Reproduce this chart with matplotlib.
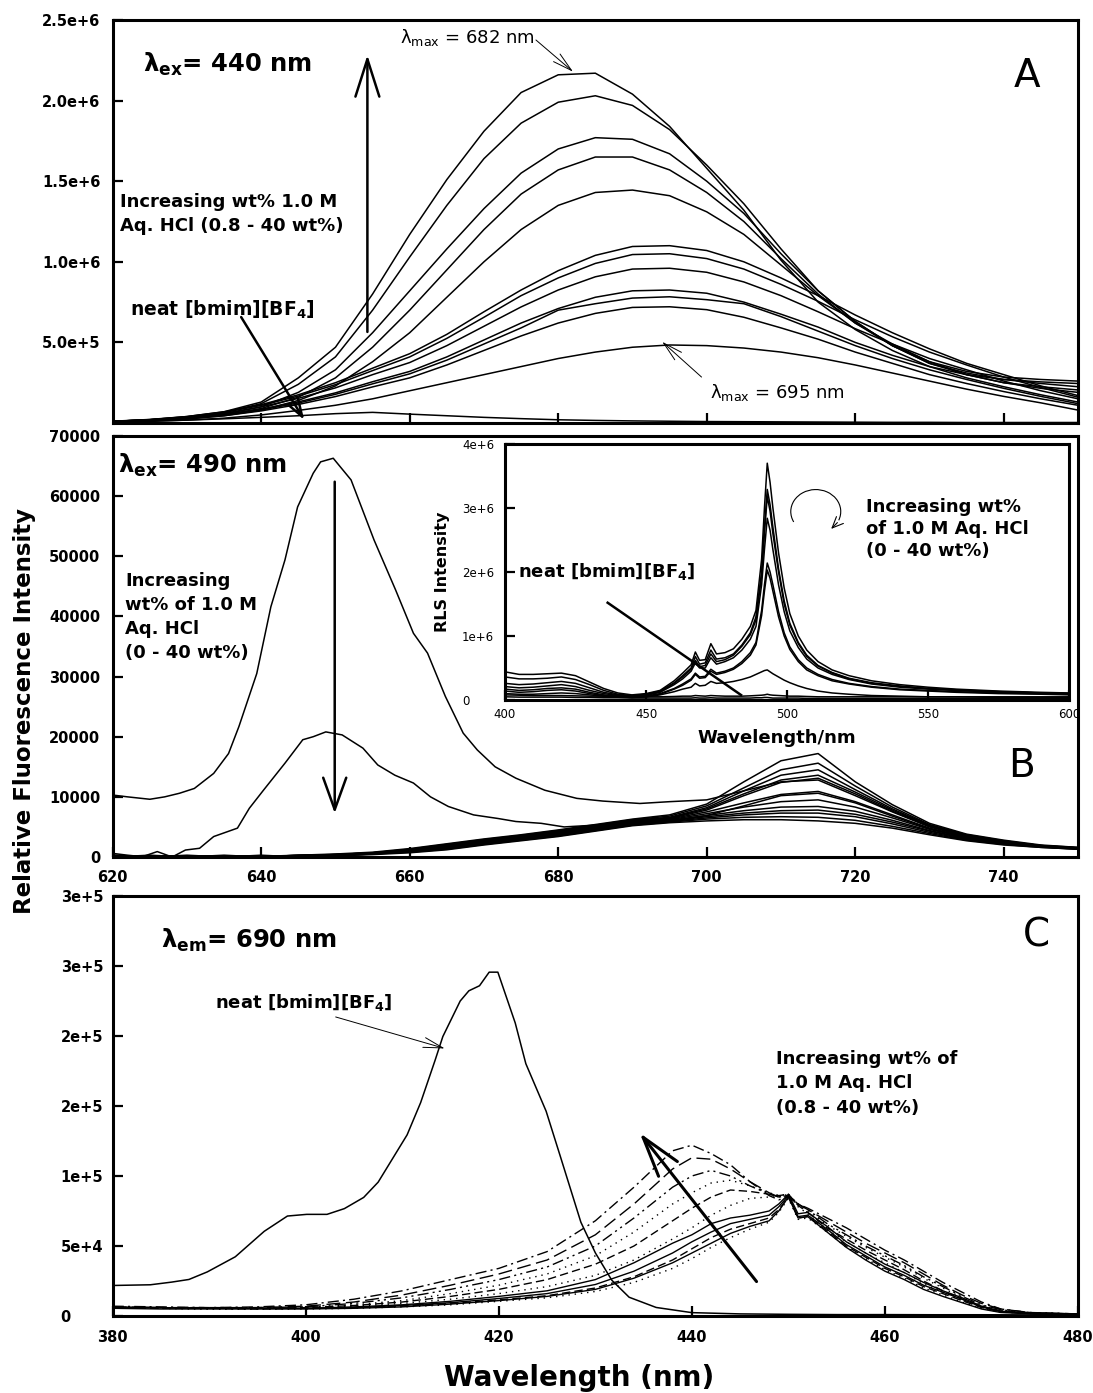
import matplotlib
matplotlib.use("Agg")
import matplotlib.pyplot as plt
import numpy as np
from matplotlib.patches import Arc

plt.rcParams['font.family'] = 'DejaVu Sans'
plt.rcParams['mathtext.fontset'] = 'dejavusans'

# ---------------- panel A : emission spectra, ex 440 nm (units of 1e6)
a_x = [620, 625, 630, 635, 640, 645, 650, 655, 660, 665, 670, 675, 680, 685,
       690, 695, 700, 705, 710, 715, 720, 725, 730, 735, 740, 745, 750]
a1 = [0.01, 0.02, 0.04, 0.07, 0.13, 0.28, 0.47, 0.80, 1.17, 1.51, 1.81, 2.05, 2.16, 2.17,
      2.04, 1.84, 1.58, 1.32, 1.01, 0.75, 0.58, 0.45, 0.35, 0.30, 0.27, 0.255, 0.245]
a2 = [0.01, 0.02, 0.035, 0.065, 0.12, 0.24, 0.41, 0.70, 1.03, 1.35, 1.64, 1.86, 1.99, 2.03,
      1.97, 1.82, 1.60, 1.36, 1.08, 0.82, 0.63, 0.48, 0.38, 0.32, 0.285, 0.27, 0.26]
a3 = [0.01, 0.02, 0.03, 0.055, 0.10, 0.19, 0.33, 0.56, 0.82, 1.08, 1.33, 1.55, 1.70, 1.77,
      1.76, 1.67, 1.50, 1.30, 1.05, 0.82, 0.63, 0.48, 0.37, 0.31, 0.27, 0.245, 0.225]
a4 = [0.008, 0.015, 0.028, 0.05, 0.09, 0.16, 0.28, 0.47, 0.70, 0.95, 1.20, 1.42, 1.57, 1.65,
      1.65, 1.57, 1.43, 1.25, 1.02, 0.80, 0.62, 0.48, 0.37, 0.30, 0.25, 0.225, 0.205]
a5 = [0.008, 0.015, 0.025, 0.045, 0.08, 0.14, 0.23, 0.38, 0.56, 0.78, 1.00, 1.20, 1.35, 1.43,
      1.445, 1.41, 1.31, 1.17, 0.98, 0.79, 0.62, 0.49, 0.38, 0.30, 0.25, 0.215, 0.19]
a6 = [0.011, 0.022, 0.04, 0.069, 0.114, 0.175, 0.25, 0.34, 0.43, 0.55, 0.69, 0.825, 0.945, 1.04,
      1.095, 1.10, 1.07, 1.0, 0.90, 0.79, 0.67, 0.56, 0.46, 0.37, 0.30, 0.23, 0.17]
a7 = [0.01, 0.021, 0.038, 0.066, 0.109, 0.167, 0.238, 0.325, 0.41, 0.525, 0.656, 0.79, 0.90, 0.99,
      1.045, 1.05, 1.02, 0.955, 0.86, 0.755, 0.64, 0.535, 0.44, 0.36, 0.285, 0.22, 0.16]
a8 = [0.01, 0.019, 0.035, 0.06, 0.1, 0.153, 0.218, 0.30, 0.375, 0.48, 0.60, 0.72, 0.825, 0.907,
      0.955, 0.96, 0.935, 0.875, 0.79, 0.69, 0.585, 0.49, 0.40, 0.33, 0.26, 0.2, 0.15]
a9 = [0.008, 0.016, 0.03, 0.052, 0.086, 0.131, 0.187, 0.256, 0.32, 0.41, 0.515, 0.62, 0.71, 0.78,
      0.82, 0.825, 0.805, 0.75, 0.675, 0.595, 0.50, 0.42, 0.35, 0.28, 0.225, 0.175, 0.13]
a10 = [0.008, 0.015, 0.028, 0.049, 0.081, 0.124, 0.178, 0.243, 0.305, 0.39, 0.49, 0.59, 0.70, 0.74,
       0.775, 0.783, 0.765, 0.74, 0.66, 0.57, 0.48, 0.40, 0.33, 0.27, 0.215, 0.165, 0.12]
a11 = [0.007, 0.014, 0.026, 0.045, 0.075, 0.115, 0.164, 0.224, 0.28, 0.36, 0.45, 0.54, 0.62, 0.68,
       0.717, 0.721, 0.703, 0.656, 0.59, 0.52, 0.44, 0.37, 0.30, 0.245, 0.195, 0.15, 0.11]
a12 = [0.005, 0.01, 0.018, 0.03, 0.05, 0.078, 0.11, 0.15, 0.20, 0.25, 0.30, 0.35, 0.40, 0.44,
       0.47, 0.484, 0.48, 0.465, 0.44, 0.405, 0.36, 0.31, 0.26, 0.21, 0.165, 0.125, 0.08]
a_neat = [0.008, 0.012, 0.018, 0.026, 0.035, 0.045, 0.058, 0.066, 0.055, 0.045, 0.035, 0.027, 0.02, 0.016,
          0.013, 0.011, 0.009, 0.008, 0.007, 0.006, 0.005, 0.004, 0.004, 0.003, 0.003, 0.003, 0.003]
a_curves = [a1, a2, a3, a4, a5, a6, a7, a8, a9, a10, a11, a12, a_neat]
a_yticks = [0.5, 1.0, 1.5, 2.0, 2.5]
a_ylabels = ['5.0e+5', '1.0e+6', '1.5e+6', '2.0e+6', '2.5e+6']

# ---------------- panel B : emission spectra, ex 490 nm
b_neat_x = [620, 622, 625, 627, 629, 631, 633.6, 635.6, 637, 639.4, 641.3, 643.2, 644.9, 647, 648,
            649.7, 652.1, 655.2, 658.1, 660.5, 662.4, 664.8, 667.2, 669.1, 671.5, 674.3, 678.2,
            682.5, 686, 691, 695, 700, 705, 710, 715, 720, 725, 730, 735, 740, 745, 750]
b_neat = [10300, 10000, 9600, 10000, 10600, 11400, 13900, 17200, 21700, 30500, 41600, 49400, 58200,
          63800, 65700, 66300, 62700, 52700, 44400, 37200, 33900, 26700, 20600, 17800, 15000, 13100,
          11100, 9750, 9300, 8900, 9200, 9500, 11000, 12500, 12800, 10200, 7500, 5000, 3400, 2500,
          1800, 1500]
b_second_x = [620, 622, 624, 626, 628, 629.8, 631.7, 633.6, 636.8, 638.4, 640.3, 643.2, 645.6, 647,
              648.7, 650.9, 653.7, 655.7, 658, 660.5, 662.8, 665.2, 668.6, 671.9, 674.3, 677.7,
              680.8, 685, 690, 695, 700, 705, 710, 715, 720, 725, 730, 735, 740, 745, 750]
b_second = [600, 300, 50, 900, 0, 1160, 1450, 3400, 4800, 8100, 11100, 15600, 19500, 20000, 20800,
            20300, 18100, 15300, 13600, 12300, 10000, 8400, 7000, 6400, 5900, 5600, 5000, 5300,
            5600, 6000, 6900, 8500, 10200, 10600, 9000, 6800, 4700, 3300, 2400, 1800, 1400]
b_x = a_x
b1 = [300, 0, 200, 0, 100, 300, 500, 800, 1400, 2200, 3000, 3700, 4500, 5400, 6300,
      7000, 8800, 12500, 16000, 17200, 12500, 8700, 5600, 3800, 2800, 2000, 1600]
b2 = [0, 200, 0, 300, 0, 200, 400, 700, 1300, 2100, 2900, 3600, 4400, 5300, 6200,
      6800, 8500, 11500, 14500, 15600, 11800, 8300, 5400, 3700, 2700, 1900, 1600]
b3 = [200, 0, 100, 0, 200, 0, 300, 600, 1200, 2000, 2800, 3500, 4300, 5200, 6100,
      6600, 8200, 11000, 13600, 14500, 11200, 8000, 5300, 3600, 2600, 1900, 1500]
b4 = [0, 100, 0, 100, 0, 300, 400, 700, 1200, 1900, 2700, 3500, 4200, 5100, 6000,
      6500, 8000, 10500, 12800, 13600, 10800, 7800, 5200, 3500, 2600, 1900, 1500]
b5 = [100, 0, 300, 0, 100, 100, 300, 600, 1100, 1800, 2600, 3400, 4100, 5000, 5900,
      6400, 7800, 10200, 12400, 13100, 10500, 7600, 5100, 3500, 2500, 1800, 1500]
b6 = [0, 300, 0, 200, 0, 200, 400, 700, 1100, 1700, 2500, 3300, 4000, 4900, 5800,
      6300, 7500, 9000, 10400, 10900, 9200, 7000, 4800, 3300, 2400, 1800, 1400]
b7 = [0, 0, 200, 0, 300, 0, 300, 500, 1000, 1600, 2400, 3200, 3900, 4800, 5700,
      6200, 7200, 8300, 9200, 9500, 8300, 6500, 4600, 3200, 2300, 1700, 1400]
b8 = [200, 0, 0, 100, 0, 200, 300, 600, 1000, 1600, 2300, 3100, 3800, 4700, 5600,
      6100, 6900, 7700, 8300, 8400, 7600, 6100, 4400, 3100, 2300, 1700, 1400]
b9 = [0, 100, 0, 0, 200, 100, 200, 500, 900, 1500, 2300, 3000, 3700, 4600, 5500,
      6000, 6700, 7300, 7700, 7800, 7100, 5800, 4300, 3000, 2200, 1700, 1400]
b10 = [100, 0, 100, 0, 0, 300, 400, 600, 900, 1400, 2200, 2900, 3600, 4500, 5400,
       5900, 6500, 7000, 7300, 7300, 6700, 5500, 4100, 2900, 2200, 1700, 1300]
b11 = [0, 0, 0, 200, 100, 0, 300, 500, 800, 1300, 2100, 2800, 3500, 4400, 5300,
       5800, 6300, 6600, 6700, 6600, 6100, 5100, 3900, 2800, 2100, 1600, 1300]
b12 = [300, 0, 200, 0, 100, 200, 200, 400, 700, 1200, 2000, 2700, 3400, 4300, 5200,
       5700, 6000, 6200, 6200, 6000, 5600, 4800, 3700, 2700, 2000, 1600, 1300]
b_curves = [b1, b2, b3, b4, b5, b6, b7, b8, b9, b10, b11, b12]

# ---------------- inset : RLS spectra (units of 1e6)
i_x = [400, 405, 410, 415, 420, 425, 430, 435, 440, 445,
       450, 455, 460, 463, 466, 467.5, 469, 471, 473, 475,
       478, 481, 484, 487, 489, 491, 492, 493, 494, 495,
       497, 499, 501, 504, 507, 511, 516, 522, 530, 540,
       550, 560, 575, 590, 600]
r1 = [0.44, 0.40, 0.40, 0.41, 0.42, 0.38, 0.28, 0.18, 0.11, 0.08,
      0.10, 0.15, 0.30, 0.42, 0.55, 0.75, 0.62, 0.63, 0.88, 0.72,
      0.74, 0.80, 0.95, 1.15, 1.4, 2.2, 3.0, 3.7, 3.4, 3.0,
      2.3, 1.75, 1.35, 1.0, 0.78, 0.6, 0.47, 0.38, 0.3, 0.24,
      0.2, 0.17, 0.14, 0.12, 0.11]
r2 = [0.36, 0.33, 0.33, 0.34, 0.36, 0.32, 0.24, 0.15, 0.09, 0.07,
      0.09, 0.14, 0.27, 0.38, 0.50, 0.68, 0.56, 0.58, 0.78, 0.64,
      0.66, 0.72, 0.86, 1.05, 1.3, 2.0, 2.7, 3.29, 3.05, 2.7,
      2.05, 1.55, 1.2, 0.9, 0.7, 0.54, 0.43, 0.34, 0.27, 0.22,
      0.18, 0.16, 0.13, 0.11, 0.10]
r3 = [0.26, 0.24, 0.25, 0.27, 0.29, 0.26, 0.19, 0.12, 0.08, 0.06,
      0.08, 0.13, 0.26, 0.36, 0.48, 0.62, 0.52, 0.54, 0.72, 0.60,
      0.63, 0.70, 0.84, 1.02, 1.25, 1.95, 2.6, 3.18, 2.95, 2.6,
      2.0, 1.5, 1.17, 0.88, 0.68, 0.53, 0.42, 0.33, 0.26, 0.21,
      0.18, 0.15, 0.13, 0.11, 0.10]
r4 = [0.21, 0.19, 0.20, 0.22, 0.24, 0.21, 0.15, 0.10, 0.07, 0.05,
      0.07, 0.12, 0.24, 0.33, 0.45, 0.58, 0.50, 0.50, 0.66, 0.56,
      0.60, 0.66, 0.78, 0.95, 1.15, 1.8, 2.35, 2.84, 2.65, 2.35,
      1.8, 1.38, 1.08, 0.82, 0.64, 0.5, 0.4, 0.32, 0.25, 0.2,
      0.17, 0.15, 0.12, 0.11, 0.10]
r5 = [0.17, 0.15, 0.16, 0.18, 0.19, 0.17, 0.12, 0.08, 0.06, 0.05,
      0.06, 0.10, 0.18, 0.25, 0.33, 0.42, 0.36, 0.37, 0.48, 0.42,
      0.45, 0.50, 0.60, 0.74, 0.90, 1.4, 1.8, 2.14, 2.0, 1.8,
      1.38, 1.05, 0.83, 0.63, 0.5, 0.4, 0.32, 0.26, 0.21, 0.17,
      0.15, 0.13, 0.11, 0.10, 0.09]
r6 = [0.14, 0.12, 0.13, 0.15, 0.16, 0.14, 0.10, 0.07, 0.05, 0.04,
      0.05, 0.09, 0.17, 0.23, 0.31, 0.40, 0.34, 0.35, 0.45, 0.40,
      0.43, 0.48, 0.57, 0.70, 0.86, 1.32, 1.7, 2.03, 1.9, 1.7,
      1.3, 1.0, 0.79, 0.6, 0.47, 0.38, 0.3, 0.25, 0.2, 0.16,
      0.14, 0.12, 0.10, 0.09, 0.08]
r7 = [0.10, 0.09, 0.09, 0.10, 0.11, 0.10, 0.08, 0.06, 0.05, 0.04,
      0.05, 0.08, 0.13, 0.17, 0.20, 0.26, 0.22, 0.23, 0.29, 0.26,
      0.27, 0.29, 0.32, 0.36, 0.40, 0.44, 0.46, 0.47, 0.44, 0.41,
      0.36, 0.31, 0.27, 0.22, 0.18, 0.14, 0.11, 0.09, 0.07, 0.06,
      0.05, 0.05, 0.04, 0.04, 0.04]
r8 = [0.08, 0.075, 0.07, 0.07, 0.07, 0.065, 0.06, 0.06, 0.055, 0.05,
      0.05, 0.05, 0.055, 0.06, 0.06, 0.07, 0.065, 0.06, 0.07, 0.065,
      0.06, 0.06, 0.06, 0.065, 0.07, 0.075, 0.08, 0.09, 0.08, 0.075,
      0.07, 0.065, 0.06, 0.06, 0.055, 0.05, 0.05, 0.05, 0.05, 0.05,
      0.05, 0.05, 0.05, 0.05, 0.05]
r9 = [0.05, 0.045, 0.045, 0.045, 0.045, 0.04, 0.04, 0.035, 0.035, 0.03,
      0.03, 0.03, 0.03, 0.03, 0.03, 0.035, 0.03, 0.03, 0.035, 0.03,
      0.03, 0.03, 0.03, 0.03, 0.035, 0.035, 0.04, 0.04, 0.035, 0.03,
      0.03, 0.03, 0.03, 0.03, 0.025, 0.025, 0.025, 0.025, 0.025, 0.025,
      0.025, 0.025, 0.02, 0.02, 0.02]
i_curves = [r1, r2, r3, r4, r5, r6, r7, r8, r9]

# ---------------- panel C : excitation spectra, em 690 nm
c_neat_x = [380, 383.9, 386.1, 387.9, 389.8, 392.7, 395.7, 398.1, 400.1, 402.2, 404, 406, 407.5,
            409, 410.5, 411.9, 413.4, 414.2, 416, 416.9, 418, 419, 419.9, 421.7, 422.8, 424.9,
            426.4, 428.5, 430, 431.7, 433.5, 436.3, 440, 445, 450, 455, 460, 465, 470, 475, 480]
c_neat = [21800, 22300, 24200, 26100, 31500, 42300, 60500, 71400, 72600, 72600, 76700, 84700, 95600,
          112500, 129400, 152400, 182700, 199600, 225000, 232300, 235900, 245600, 245600, 209300,
          180200, 146300, 113400, 67000, 45100, 25600, 13400, 6100, 2400, 1500, 1200, 1000, 1000,
          900, 900, 800, 1500]
c_x = [380, 385, 390, 395, 400, 405, 410, 415, 420, 425, 430,
       434, 438, 440, 442, 444, 446, 448, 449, 450, 451,
       452, 454, 456, 458, 460, 462, 464, 466, 468, 470,
       472, 475, 480]
c1 = [7000, 6500, 6000, 6500, 8000, 12000, 18000, 26000, 34000, 46000, 68000,
      92000, 118000, 122000, 116000, 108000, 96000, 86000, 83000, 85000, 80000,
      77000, 70000, 63000, 55000, 47000, 40000, 32000, 24000, 17000, 10000,
      5000, 2500, 1500]
c2 = [6500, 6000, 6000, 6000, 7000, 10000, 15000, 22000, 30000, 40000, 58000,
      80000, 105000, 113000, 112000, 105000, 96000, 88000, 85000, 86000, 80000,
      76000, 68000, 60000, 52000, 45000, 38000, 30000, 22000, 15000, 9000,
      5000, 2500, 1500]
c3 = [6500, 6000, 5500, 6000, 6500, 9000, 13000, 19000, 26000, 35000, 50000,
      70000, 92000, 100000, 104000, 100000, 93000, 87000, 85000, 86000, 80000,
      76000, 66000, 58000, 50000, 43000, 36000, 28000, 21000, 14000, 8000,
      4500, 2000, 1500]
c4 = [6000, 6000, 5500, 5500, 6000, 8000, 11000, 16000, 22000, 30000, 43000,
      60000, 80000, 88000, 95000, 97000, 93000, 88000, 86000, 87000, 80000,
      75000, 65000, 57000, 49000, 42000, 35000, 27000, 20000, 13000, 7500,
      4000, 2000, 1500]
c5 = [6000, 5500, 5500, 5500, 6000, 7500, 10000, 14000, 19000, 26000, 37000,
      50000, 68000, 77000, 85000, 90000, 89000, 87000, 86000, 87000, 79000,
      74000, 63000, 55000, 47000, 40000, 33000, 25000, 18000, 12000, 7000,
      3500, 2000, 1500]
c6 = [5500, 5500, 5000, 5000, 5500, 7000, 9000, 12000, 16000, 21000, 29000,
      40000, 55000, 63000, 72000, 79000, 84000, 85000, 85000, 87000, 78000,
      73000, 62000, 53000, 45000, 38000, 31000, 23000, 17000, 11000, 6500,
      3500, 2000, 1500]
c7 = [6500, 6000, 5500, 5500, 5500, 6500, 8000, 10500, 14000, 18000, 26000,
      38000, 52000, 58000, 66000, 70000, 72000, 75000, 80000, 87000, 73000,
      74000, 64000, 53000, 45000, 37000, 31000, 24000, 18000, 13000, 7000,
      3500, 2000, 1500]
c8 = [6000, 6000, 5500, 5500, 5500, 6000, 7500, 9500, 12500, 16000, 22500,
      32000, 45000, 53000, 60000, 66000, 69000, 72000, 78000, 86000, 71000,
      72000, 62000, 51000, 43000, 35000, 29000, 22000, 17000, 12000, 6500,
      3000, 1800, 1500]
c9 = [6000, 5500, 5500, 5000, 5500, 6000, 7000, 9000, 11500, 14500, 20000,
      28000, 40000, 48000, 56000, 62000, 66000, 70000, 76000, 85000, 70000,
      71000, 61000, 50000, 42000, 34000, 28000, 21000, 16000, 11000, 6000,
      3000, 1800, 1500]
c10 = [5500, 5500, 5000, 5000, 5000, 5500, 6500, 8000, 10500, 13000, 17500,
       24000, 34000, 41000, 49000, 56000, 62000, 67000, 74000, 84000, 69000,
       70000, 60000, 49000, 41000, 33000, 27000, 20000, 15000, 10000, 5500,
       2800, 1700, 1500]
c11 = [5500, 5000, 5000, 5000, 5000, 5500, 6500, 8500, 11000, 14000, 19000,
       27000, 38000, 45000, 52000, 59000, 64000, 68000, 75000, 85000, 70000,
       71000, 60000, 49000, 40000, 32000, 26000, 19000, 14000, 9500, 5000,
       2500, 1600, 1500]
c_curves = [c1, c2, c3, c4, c5, c6, c7, c8, c9, c10, c11]
c_styles = [(0, (8, 3, 1.5, 3)), (0, (10, 4)), (0, (8, 3, 1.5, 3, 1.5, 3)), (0, (1, 3.5)),
            (0, (6, 3)), (0, (1, 3.5)), '-', '-', (0, (6, 3)), (0, (1, 3.5)), '-']
c_ylabels = ['0', '5e+4', '1e+5', '2e+5', '2e+5', '3e+5', '3e+5']

W, H = 1093, 1393


def box(l, t, r, b):
    return [l / W, 1 - b / H, (r - l) / W, (b - t) / H]


def frame(ax, lw=2.2):
    for s in ax.spines.values():
        s.set_linewidth(lw)
    ax.tick_params(direction='in', length=7, width=1.6)


def arrow(ax, tail, tip, lw, hl, hw, coords='data'):
    ax.annotate('', xy=tip, xytext=tail, xycoords=coords, textcoords=coords,
                arrowprops=dict(arrowstyle='->,head_length=%g,head_width=%g' % (hl, hw),
                                lw=lw, color='black', shrinkA=0, shrinkB=0, mutation_scale=1))


fig = plt.figure(figsize=(10.93, 13.93), dpi=100)
axA = fig.add_axes(box(112.7, 20, 1078, 423))
axB = fig.add_axes(box(112.7, 436, 1078, 857))
axC = fig.add_axes(box(112.7, 896, 1078, 1316))
axI = fig.add_axes(box(505, 444, 1069, 700))

tick_kw = dict(fontsize=10.5, fontweight='bold')
txt_kw = dict(fontsize=13, fontweight='bold', linespacing=1.45)

# ---- A
for y in a_curves:
    axA.plot(a_x, y, color='black', lw=1.1)
axA.set_xlim(620, 750)
axA.set_ylim(0, 2.5)
axA.set_xticks([640, 660, 680, 700, 720, 740], [])
axA.set_yticks(a_yticks, a_ylabels, **tick_kw)
frame(axA)
axA.tick_params(axis='y', pad=9)
axA.text(0.031, 0.871, 'λ$_{\\mathbf{ex}}$= 440 nm', transform=axA.transAxes,
         fontsize=17.5, fontweight='bold', va='baseline')
axA.text(0.0076, 0.571, 'Increasing wt% 1.0 M\nAq. HCl (0.8 - 40 wt%)', transform=axA.transAxes,
         va='top', **txt_kw)
axA.text(0.018, 0.28, r'neat [bmim][BF$_\mathbf{4}$]', transform=axA.transAxes,
         va='center', fontsize=13.5, fontweight='bold')
axA.text(0.947, 0.861, 'A', transform=axA.transAxes, fontsize=28, ha='center', va='center')
arrow(axA, (654.3, 0.565), (654.3, 2.283), 1.8, 27, 8.6)
arrow(axA, (637.3, 0.657), (645.8, 0.019), 1.8, 13, 4.3)
axA.text(658.7, 2.394, 'λ$_{\\rm max}$ = 682 nm', fontsize=13, va='center')
arrow(axA, (677.0, 2.376), (682.0, 2.179), 0.7, 14, 3.6)
axA.text(700.5, 0.19, 'λ$_{\\rm max}$ = 695 nm', fontsize=13, va='center')
arrow(axA, (699.3, 0.285), (694.0, 0.504), 0.7, 14, 3.6)

# ---- B
for y in b_curves:
    axB.plot(b_x, y, color='black', lw=1.1)
axB.plot(b_second_x, b_second, color='black', lw=1.1)
axB.plot(b_neat_x, b_neat, color='black', lw=1.1)
axB.set_xlim(620, 750)
axB.set_ylim(0, 70000)
axB.set_xticks([620, 640, 660, 680, 700, 720, 740],
               ['620', '640', '660', '680', '700', '720', '740'], **tick_kw)
axB.set_yticks([0, 10000, 20000, 30000, 40000, 50000, 60000, 70000],
               ['0', '10000', '20000', '30000', '40000', '50000', '60000', '70000'], **tick_kw)
frame(axB)
axB.tick_params(axis='y', pad=9)
axB.tick_params(axis='x', pad=9)
axB.text(0.0055, 0.912, 'λ$_{\\mathbf{ex}}$= 490 nm', transform=axB.transAxes,
         fontsize=17.5, fontweight='bold', va='baseline')
axB.text(0.0127, 0.678, 'Increasing\nwt% of 1.0 M\nAq. HCl\n(0 - 40 wt%)', transform=axB.transAxes,
         va='top', **txt_kw)
axB.text(0.941, 0.216, 'B', transform=axB.transAxes, fontsize=28, ha='center', va='center')
arrow(axB, (649.9, 62400), (649.9, 7260), 1.8, 23, 8.3)

# ---- inset
for y in i_curves:
    axI.plot(i_x, y, color='black', lw=1.1)
axI.set_xlim(400, 600)
axI.set_ylim(0, 4)
axI.set_xticks([400, 450, 500, 550, 600], ['400', '450', '500', '550', '600'], fontsize=8.5)
axI.set_yticks([0, 1, 2, 3, 4], ['0', '1e+6', '2e+6', '3e+6', '4e+6'], fontsize=8.5)
frame(axI)
axI.tick_params(axis='y', pad=31)
axI.tick_params(axis='x', pad=6)
for lab in axI.get_yticklabels():
    lab.set_horizontalalignment('left')
axI.text(-0.110, 0.5, 'RLS Intensity', transform=axI.transAxes, rotation=90,
         ha='center', va='center', fontsize=11.5, fontweight='bold')
axI.text(0.482, -0.148, 'Wavelength/nm', transform=axI.transAxes,
         ha='center', va='center', fontsize=13, fontweight='bold')
axI.text(0.023, 0.501, r'neat [bmim][BF$_\mathbf{4}$]', transform=axI.transAxes,
         va='center', fontsize=13, fontweight='bold')
axI.plot([436.4, 483.7], [1.52, 0.078], color='black', lw=1.8)
axI.text(0.64, 0.789, 'Increasing wt%\nof 1.0 M Aq. HCl\n(0 - 40 wt%)', transform=axI.transAxes,
         va='top', fontsize=13, fontweight='bold', linespacing=1.3)
# curved arrow
cx, cy, rx, ry = 0.551, 0.736, 0.0443, 0.086
axI.add_patch(Arc((cx, cy), 2 * rx, 2 * ry, theta1=-40, theta2=226, transform=axI.transAxes,
                  color='black', lw=0.8))
t0, t1 = np.radians(-30), np.radians(-52)
arrow(axI, (cx + rx * np.cos(t0), cy + ry * np.sin(t0)), (cx + rx * np.cos(t1), cy + ry * np.sin(t1)),
      0.8, 8, 3.5, coords='axes fraction')

# ---- C
axC.plot(c_neat_x, c_neat, color='black', lw=1.1)
for y, ls in zip(c_curves, c_styles):
    axC.plot(c_x, y, color='black', lw=1.0, linestyle=ls)
axC.set_xlim(380, 480)
axC.set_ylim(0, 300000)
axC.set_xticks([380, 400, 420, 440, 460, 480], ['380', '400', '420', '440', '460', '480'], **tick_kw)
axC.set_yticks([0, 50000, 100000, 150000, 200000, 250000, 300000], c_ylabels, **tick_kw)
frame(axC)
axC.tick_params(axis='y', pad=37.5)
axC.tick_params(axis='x', pad=10)
for lab in axC.get_yticklabels():
    lab.set_horizontalalignment('left')
axC.text(0.050, 0.877, 'λ$_{\\mathbf{em}}$= 690 nm', transform=axC.transAxes,
         fontsize=17.5, fontweight='bold', va='baseline')
axC.text(0.1055, 0.746, r'neat [bmim][BF$_\mathbf{4}$]', transform=axC.transAxes,
         va='center', fontsize=13, fontweight='bold')
arrow(axC, (403.1, 213600), (414.4, 191100), 0.7, 14, 3.6)
axC.text(0.6876, 0.633, 'Increasing wt% of\n1.0 M Aq. HCl\n(0.8 - 40 wt%)', transform=axC.transAxes,
         va='top', **txt_kw)
axC.text(0.957, 0.907, 'C', transform=axC.transAxes, fontsize=28, ha='center', va='center')
arrow(axC, (446.7, 24600), (434.6, 130700), 2.2, 29, 8.6)

fig.text(25 / W, 1 - 711.5 / H, 'Relative Fluorescence Intensity', rotation=90,
         ha='center', va='center', fontsize=16.5, fontweight='bold')
fig.text(579 / W, 1 - 1378 / H, 'Wavelength (nm)', ha='center', va='center',
         fontsize=20, fontweight='bold')

fig.savefig('out.png', dpi=100, facecolor='white')
